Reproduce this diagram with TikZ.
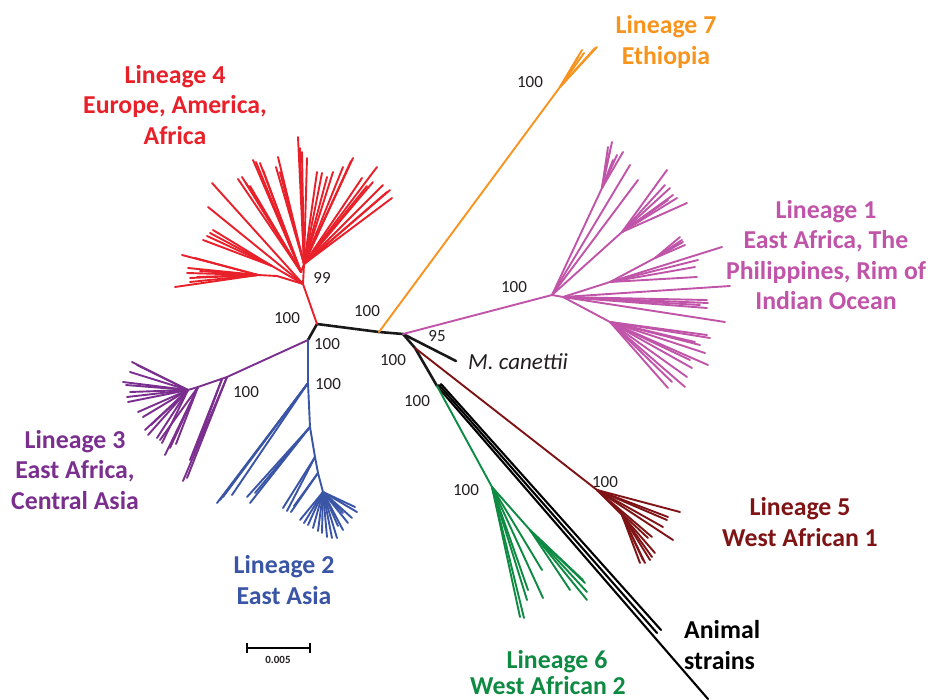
\documentclass[tikz,border=0pt]{standalone}
\usepackage{fontspec}
\setmainfont{Carlito}
\usetikzlibrary{calc}
\definecolor{cRed}{HTML}{E8202A}
\definecolor{cOrange}{HTML}{F7931E}
\definecolor{cOrangeT}{HTML}{F7941D}
\definecolor{cMag}{HTML}{C054A8}
\definecolor{cPurp}{HTML}{7A2E8E}
\definecolor{cBlue}{HTML}{3A55A5}
\definecolor{cMar}{HTML}{7F1416}
\definecolor{cGreen}{HTML}{0E8A43}
\definecolor{cTxt}{HTML}{231F20}
\begin{document}
\begin{tikzpicture}[x=1pt,y=-1pt,
  br/.style={line width=1.9pt,line cap=round},
  bb/.style={line width=2.6pt,line cap=round,black!90},
  lab/.style={font=\fontsize{25.8}{30.5}\selectfont\bfseries,align=center,inner sep=0pt},
  sv/.style={font=\fontsize{17}{19}\selectfont,text=cTxt,inner sep=0pt}]
\useasboundingbox (0,0) rectangle (929,699);
% internal nodes
\coordinate (A) at (317,324);
\coordinate (O) at (379,332);
\coordinate (B) at (403,334);
\coordinate (P0) at (308,340);
\coordinate (Mc) at (456,361);
\coordinate (C1) at (415,348);
\coordinate (C2) at (437,386);
% backbone
\draw[bb] (P0) -- (A) -- (O) -- (B) -- (Mc);
\draw[bb] (B) -- (C1) -- (C2);
% animal strains
\coordinate (An1) at (708,699);
\coordinate (An2) at (657,633);
\coordinate (An3) at (661,630);
\draw[br,black,line width=2.1pt] (C2) -- (An1);
\draw[br,black,line width=2.1pt] (C2) ++(2,-1) coordinate (C2b) -- (An2);
\draw[br,black,line width=2.1pt] (C2) ++(4,-2) coordinate (C2c) -- (An3);
% ---------- red lineage 4
\coordinate (R0) at (303,284);
\coordinate (R1) at (304,264);
\coordinate (Rl) at (301,272);
\coordinate (Rm) at (272,266);
\coordinate (Rn) at (277,276);
\coordinate (Rn2) at (258,275);
\begin{scope}[br,cRed]
\draw (A) -- (R0) -- (R1);
\foreach \x/\y in {298/137,300/148,302/152,307/158,278/157,276/167,280/172,317/172,322/173,327/177,333/172,353/158,351/161,343/167,362/178,377/167,373/182,383/185,387/192,390/190,392/198,367/186}
  \draw (R1) -- (\x,\y);
\draw (R1) -- (Rl);
\foreach \x/\y in {253/160,256/162,260/163,263/170,238/179,242/177,246/183,250/186}
  \draw (Rl) -- (\x,\y);
\draw (R0) -- (208,207);
\draw (R0) -- (212,183);
\draw (R0) -- (Rm);
\foreach \x/\y in {203/240,207/236,210/233,213/230}
  \draw (Rm) -- (\x,\y);
\draw (R0) -- (Rn) -- (Rn2);
\foreach \x/\y in {182/255,195/258,188/268,187/273,190/278,190/282,175/287,197/277,200/271}
  \draw (Rn2) -- (\x,\y);
\end{scope}
% ---------- purple lineage 3
\coordinate (P1) at (227,377);
\coordinate (P1b) at (222,379);
\coordinate (P2) at (198,387);
\coordinate (P3) at (188,390);
\begin{scope}[br,cPurp]
\draw (P0) -- (P1) -- (P2) -- (P3);
\foreach \x/\y in {183/481,187/478} \draw (P1) -- (\x,\y);
\foreach \x/\y in {190/460,194/455} \draw (P1b) -- (\x,\y);
\foreach \x/\y in {165/455,170/448,176/444,160/440} \draw (P2) -- (\x,\y);
\foreach \x/\y in {132/362,137/365,130/372,123/382,126/385,130/392,127/397,128/402,138/412,143/417,145/430,148/435,157/438,162/443,151/425}
  \draw (P3) -- (\x,\y);
\end{scope}
% ---------- blue lineage 2
\coordinate (B1) at (308,383);
\coordinate (B2) at (310,427);
\coordinate (B3) at (315,457);
\coordinate (B4) at (318,473);
\coordinate (B5) at (323,492);
\begin{scope}[br,cBlue]
\draw (P0) -- (B1) -- (B2) -- (B3) -- (B4) -- (B5);
\foreach \x/\y in {217/503,220/500,223/497,232/495} \draw (B1) -- (\x,\y);
\foreach \x/\y in {250/503,255/493,247/497} \draw (B2) -- (\x,\y);
\foreach \x/\y in {283/508,287/511} \draw (B3) -- (\x,\y);
\foreach \x/\y in {291/512,294/506} \draw (B4) -- (\x,\y);
\foreach \x/\y in {300/520,304/523,308/525,313/528,318/531,322/533,327/537,332/538,337/538,343/530,348/523,352/518,357/512,355/507,343/513,338/526}
  \draw (B5) -- (\x,\y);
\end{scope}
% ---------- magenta lineage 1
\coordinate (M0) at (552,295);
\coordinate (M1) at (563,297);
\coordinate (M2) at (602,188);
\coordinate (M3) at (622,232);
\coordinate (M4) at (610,282);
\coordinate (M5) at (655,258);
\coordinate (M6) at (610,322);
\begin{scope}[br,cMag]
\draw (B) -- (M0) -- (M1);
\draw (M0) -- (M2);
\foreach \x/\y in {612/142,608/147,617/155,623/152,613/160,610/150} \draw (M2) -- (\x,\y);
\draw (M0) -- (630,165);
\draw (M0) -- (638,180);
\draw (M0) -- (M3);
\foreach \x/\y in {667/170,665/185,670/188,677/198,668/200,673/195,687/203} \draw (M3) -- (\x,\y);
\draw (M1) -- (M4) -- (M5);
\foreach \x/\y in {722/247,698/260,695/267,697/277} \draw (M4) -- (\x,\y);
\foreach \x/\y in {680/237,683/242,685/245,682/240} \draw (M5) -- (\x,\y);
\foreach \x/\y in {730/286,707/300,708/303,707/308,725/322,700/305} \draw (M1) -- (\x,\y);
\draw (M1) -- (M6);
\foreach \x/\y in {707/335,710/338,695/342,705/353,708/365,692/368,687/377,685/387,668/388,672/382,700/345,690/360}
  \draw (M6) -- (\x,\y);
\end{scope}
% ---------- orange lineage 7
\coordinate (O1) at (560,87);
\begin{scope}[br,cOrange]
\draw (O) -- (O1);
\foreach \x/\y in {582/50,584/53,597/47,595/48,578/57} \draw (O1) -- (\x,\y);
\end{scope}
% ---------- maroon lineage 5
\coordinate (Y0) at (597,490);
\coordinate (Y1) at (622,515);
\begin{scope}[br,cMar]
\draw (C1) -- (Y0);
\foreach \x/\y in {680/512,668/517,667/520,663/527,673/540,652/537,648/538} \draw (Y0) -- (\x,\y);
\draw (Y0) -- (Y1);
\foreach \x/\y in {640/563,645/563,650/560,655/553,652/557,643/560} \draw (Y1) -- (\x,\y);
\end{scope}
% ---------- green lineage 6
\coordinate (G0) at (492,487);
\coordinate (G1) at (530,530);
\begin{scope}[br,cGreen]
\draw (C2) -- (G0);
\foreach \x/\y in {520/617,524/618,527/600,528/590,543/598,542/570} \draw (G0) -- (\x,\y);
\draw (G0) -- (G1);
\foreach \x/\y in {570/590,587/600,587/592,585/583,583/580} \draw (G1) -- (\x,\y);
\end{scope}
% ---------- support values
\node[sv] (s1) at (530,82) {100};
\node[sv] (s2) at (514,287) {100};
\node[sv] (s3) at (322,278) {99};
\node[sv] (s4) at (287,318) {100};
\node[sv] (s5) at (367,311) {100};
\node[sv] (s6) at (327,344) {100};
\node[sv] (s7) at (328,384) {100};
\node[sv] (s8) at (437,336) {95};
\node[sv] (s9) at (246,392) {100};
\node[sv] (s10) at (393,360) {100};
\node[sv] (s11) at (417,401) {100};
\node[sv] (s12) at (466,490) {100};
\node[sv] (s13) at (605,482) {100};
% ---------- labels
\node[lab,text=cRed] (L4) at (175,105) {Lineage 4\\Europe, America,\\Africa};
\node[lab,text=cOrangeT] (L7) at (666,42) {Lineage 7\\Ethiopia};
\node[lab,text=cMag] (L1) at (826,255) {Lineage 1\\East Africa, The\\Philippines, Rim of\\Indian Ocean};
\node[lab,text=cPurp] (L3) at (75,470) {Lineage 3\\East Africa,\\Central Asia};
\node[lab,text=cBlue] (L2) at (284,580) {Lineage 2\\East Asia};
\node[lab,text=cMar] (L5) at (800,522) {Lineage 5\\West African 1};
\node[lab,text=cGreen] (L6a) at (557,662) {Lineage 6};
\node[lab,text=cGreen] (L6b) at (548,686) {West African 2};
\node[lab,text=black,align=left,anchor=west] (La) at (684,645) {Animal\\strains};
\node[font=\fontsize{23}{26}\itshape,text=cTxt,anchor=west,inner sep=0pt] (Mct) at (468,362) {M. canettii};
% ---------- scale bar
\coordinate (sb1) at (247,648);
\coordinate (sb2) at (310,648);
\draw[line width=2.4pt] (sb1) -- (sb2);
\draw[line width=2.4pt] ($(sb1)+(0,-5)$) -- ($(sb1)+(0,5)$);
\draw[line width=2.4pt] ($(sb2)+(0,-5)$) -- ($(sb2)+(0,5)$);
\node[font=\fontsize{11}{12}\bfseries,text=cTxt,inner sep=0pt] (sbl) at (278,660) {0.005};
\end{tikzpicture}
\end{document}
